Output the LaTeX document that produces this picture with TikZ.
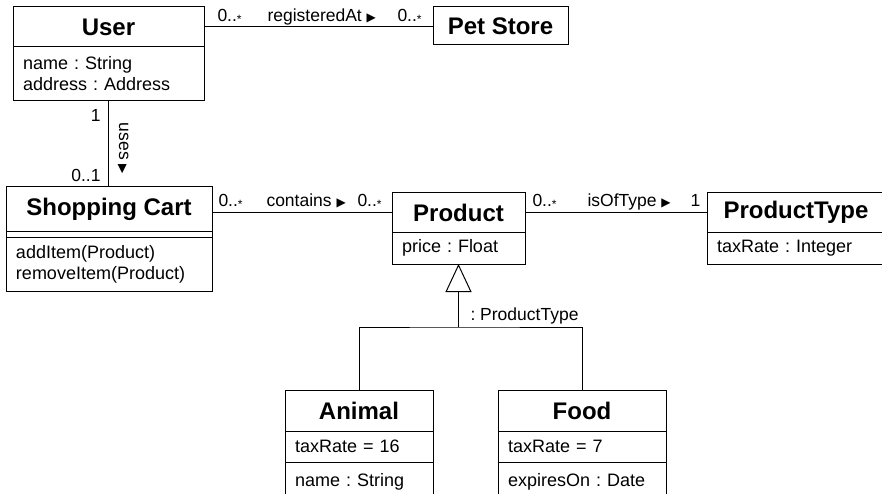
\documentclass[tikz,border=0pt]{standalone}
\usepackage{fontspec}
\setmainfont{Liberation Sans}
\newfontfamily\symf{DejaVu Sans}
\usetikzlibrary{arrows.meta}
\frenchspacing
\newcommand{\rtri}{{\symf\fontsize{12}{12}\selectfont ▶}}
\newcommand{\many}{0..{\fontsize{12}{12}\selectfont\raisebox{-1.8pt}{*}}}
\begin{document}
\begin{tikzpicture}[x=1pt,y=-1pt,line width=1pt,
  comp/.style={draw, line width=1pt, anchor=north west, inner sep=0pt, outer sep=0pt},
  ttl/.style={comp, font=\fontsize{24}{24}\selectfont\bfseries, align=center},
  att/.style={comp, font=\fontsize{18}{21}\selectfont, align=left, inner xsep=10pt},
  lbl/.style={font=\fontsize{17.5}{17.5}\selectfont, inner sep=0pt},
  gen/.style={-{Triangle[open,length=28pt,width=26pt]}}
]
\useasboundingbox (0,0) rectangle (882,494);
\clip (0,0) rectangle (882,494);
% classes
\node[ttl, minimum width=191pt, minimum height=40pt] (user) at (13,7) {User};
\node[att, text width=171pt, minimum height=54pt] (userA) at (user.south west) {name : String\\address : Address};
\node[ttl, minimum width=135pt, minimum height=38pt] (pet) at (433,7) {Pet Store};
\node[ttl, minimum width=206pt, minimum height=44pt] (cart) at (6,187) {Shopping Cart};
\node[comp, minimum width=206pt, minimum height=6pt] (cartA) at (cart.south west) {};
\node[att, text width=186pt, minimum height=54pt] (cartO) at (cartA.south west) {addItem(Product)\\removeItem(Product)};
\node[ttl, minimum width=133pt, minimum height=39pt] (prod) at (392,193) {Product};
\node[att, text width=113pt, minimum height=32pt] (prodA) at (prod.south west) {price : Float};
\node[ttl, minimum width=178pt, minimum height=39pt] (ptype) at (707,193) {ProductType};
\node[att, text width=158pt, minimum height=32pt] (ptypeA) at (ptype.south west) {taxRate : Integer};
\node[ttl, minimum width=148pt, minimum height=41pt] (animal) at (285,390) {Animal};
\node[att, text width=128pt, minimum height=31pt] (animalA) at (animal.south west) {taxRate = 16};
\node[att, text width=128pt, minimum height=40pt] (animalB) at (animalA.south west) {name : String};
\node[ttl, minimum width=168pt, minimum height=41pt] (food) at (498,390) {Food};
\node[att, text width=148pt, minimum height=31pt] (foodA) at (food.south west) {taxRate = 7};
\node[att, text width=148pt, minimum height=40pt] (foodB) at (foodA.south west) {expiresOn : Date};
% associations
\draw (user.east) -- (user.east -| pet.west);
\draw (userA.south) -- (userA.south |- cart.north);
\draw (prod.west) -- (prod.west -| cart.east);
\draw (prod.east) -- (ptype.west);
% generalization
\coordinate (gj) at ([yshift=-63pt]prodA.south);
\draw[gen] (gj) -- (prodA.south);
\draw (animal.north) |- (gj) -| (food.north);
% labels
\node[lbl, anchor=base west] (m1) at (217,22) {\many};
\node[lbl, anchor=base west] (n1) at (267,22) {registeredAt \rtri};
\node[lbl, anchor=base west] (m2) at (397,22) {\many};
\node[lbl, anchor=base east] (m3) at (101,122) {1};
\node[lbl, rotate=-90] (n2) at (123,148.5) {uses \rtri};
\node[lbl, anchor=base east] (m4) at (101,182) {0..1};
\node[lbl, anchor=base west] (m5) at (218,207) {\many};
\node[lbl, anchor=base west] (n3) at (266,207) {contains \rtri};
\node[lbl, anchor=base west] (m6) at (357,207) {\many};
\node[lbl, anchor=base west] (m7) at (532,207) {\many};
\node[lbl, anchor=base west] (n4) at (587,207) {isOfType \rtri};
\node[lbl, anchor=base west] (m8) at (690,207) {1};
\node[lbl, anchor=base west] (n5) at (470,320) {: ProductType};
\end{tikzpicture}
\end{document}
